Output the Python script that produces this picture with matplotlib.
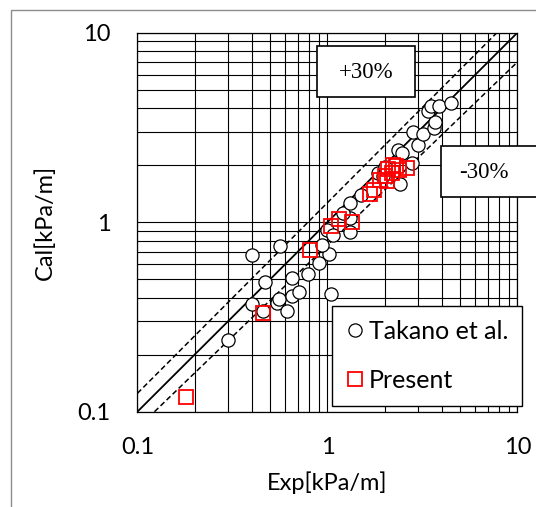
import matplotlib.pyplot as plt
from matplotlib.patches import Rectangle
from matplotlib.ticker import LogLocator, FixedLocator, NullFormatter

# fonts: narrow-ish sans for axes, serif for the +-30% boxes
plt.rcParams['font.family'] = ['Lato', 'DejaVu Sans']
plt.rcParams['font.size'] = 17

# Takano et al. (Exp, Cal)
takano_exp = [0.30, 0.40, 0.56, 0.47, 0.40, 0.46, 0.54, 0.558, 0.61, 0.65,
              0.71, 0.65, 0.79, 0.90, 1.02, 1.05, 0.94, 0.99, 1.07, 1.31,
              1.31, 1.21, 1.31, 1.50, 1.85, 1.95, 2.0, 2.41, 2.78, 2.36,
              2.46, 3.01, 2.81, 3.2, 3.64, 3.68, 3.40, 3.51, 3.88, 4.46]
takano_cal = [0.24, 0.67, 0.75, 0.485, 0.37, 0.34, 0.375, 0.392, 0.34, 0.41,
              0.43, 0.51, 0.53, 0.61, 0.68, 0.42, 0.76, 0.91, 0.855, 0.89,
              1.05, 1.12, 1.27, 1.39, 1.81, 1.75, 1.95, 1.60, 2.05, 2.40,
              2.31, 2.55, 3.0, 2.92, 3.13, 3.39, 3.86, 4.08, 4.11, 4.27]

# Present study (Exp, Cal)
present_exp = [0.18, 0.46, 0.81, 1.05, 1.155, 1.34, 1.68, 1.75, 1.89, 2.01,
               2.05, 2.18, 2.09, 2.22, 2.31, 2.39, 2.61]
present_cal = [0.12, 0.33, 0.71, 0.955, 1.035, 1.0, 1.41, 1.48, 1.67, 1.76,
               1.64, 1.81, 1.92, 2.0, 1.98, 1.89, 1.94]

# reference lines (y = x and the +-30% bands)
line_x = [0.1, 10]
line_y = [0.1, 10]
plus_x = [0.1, 7.8]
plus_y = [0.125, 10]
minus_x = [0.123, 10]
minus_y = [0.1, 7.0]

W, H = 536, 507
fig = plt.figure(figsize=(W / 100, H / 100), dpi=100)

# outer chart border (runs off the right/bottom edge)
fig.patches.append(Rectangle((11 / W, -0.1), 1.2, 1.1 - 10 / H, transform=fig.transFigure,
                             fill=False, edgecolor='#8c8c8c', linewidth=1.0))

ax = fig.add_axes([137.4 / W, 1 - 411.7 / H, 380 / W, 379 / H])
ax.set_xscale('log')
ax.set_yscale('log')
ax.set_xlim(0.1, 10)
ax.set_ylim(0.1, 10)

ax.xaxis.set_major_locator(FixedLocator([0.1, 1, 10]))
ax.yaxis.set_major_locator(FixedLocator([0.1, 1, 10]))
ax.xaxis.set_minor_locator(LogLocator(base=10, subs=range(2, 10)))
ax.yaxis.set_minor_locator(LogLocator(base=10, subs=range(2, 10)))
ax.xaxis.set_minor_formatter(NullFormatter())
ax.yaxis.set_minor_formatter(NullFormatter())
ax.set_xticklabels(['0.1', '1', '10'])
ax.set_yticklabels(['0.1', '1', '10'])
ax.grid(True, which='both', color='black', linewidth=0.8)
ax.set_axisbelow(True)
ax.tick_params(which='both', length=0)
ax.tick_params(axis='x', pad=18.5)
ax.tick_params(axis='y', pad=19.5)
for s in ax.spines.values():
    s.set_color('black')
    s.set_linewidth(0.9)

ax.plot(line_x, line_y, color='black', linewidth=1.3, zorder=3)
ax.plot(plus_x, plus_y, color='black', linewidth=1.1, linestyle=(0, (3.5, 2)), zorder=3)
ax.plot(minus_x, minus_y, color='black', linewidth=1.1, linestyle=(0, (3.5, 2)), zorder=3)

ax.plot(takano_exp, takano_cal, 'o', markersize=9.5, markerfacecolor='white',
        markeredgecolor='black', markeredgewidth=0.9, label='Takano et al.', zorder=4)
ax.plot(present_exp, present_cal, 's', markersize=9.5, markerfacecolor='none',
        markeredgecolor='#ff0000', markeredgewidth=1.3, label='Present', zorder=5)

ax.set_xlabel('Exp[kPa/m]', va='center')
ax.set_ylabel('Cal[kPa/m]', va='center')
ax.xaxis.set_label_coords(0.5, (411.7 - 483) / 379)
ax.yaxis.set_label_coords((45 - 137.4) / 380, (411.7 - 222.6) / 379)

leg = ax.legend(loc='upper left', bbox_to_anchor=(332 / W, 1 - 306 / H),
                bbox_transform=fig.transFigure, borderaxespad=0, fontsize=18,
                fancybox=False, framealpha=1, edgecolor='black',
                handlelength=0.72, handletextpad=0.2, borderpad=0.56,
                labelspacing=1.03)
leg.get_frame().set_linewidth(1.0)

# +30% / -30% boxes
for (x0, y0, x1, y1, tx, ty, txt) in [(317, 46, 415, 97, 366, 72, '+30%'),
                                      (441, 146, 560, 197, 484, 172, '-30%')]:
    fig.patches.append(Rectangle((x0 / W, 1 - y1 / H), (x1 - x0) / W, (y1 - y0) / H,
                                 transform=fig.transFigure, facecolor='white',
                                 edgecolor='black', linewidth=1.2, zorder=6))
    fig.text(tx / W, 1 - ty / H, txt, ha='center', va='center', fontsize=16.5,
             family=['Liberation Serif', 'DejaVu Serif'], zorder=7)

plt.savefig('out.png', dpi=100)
